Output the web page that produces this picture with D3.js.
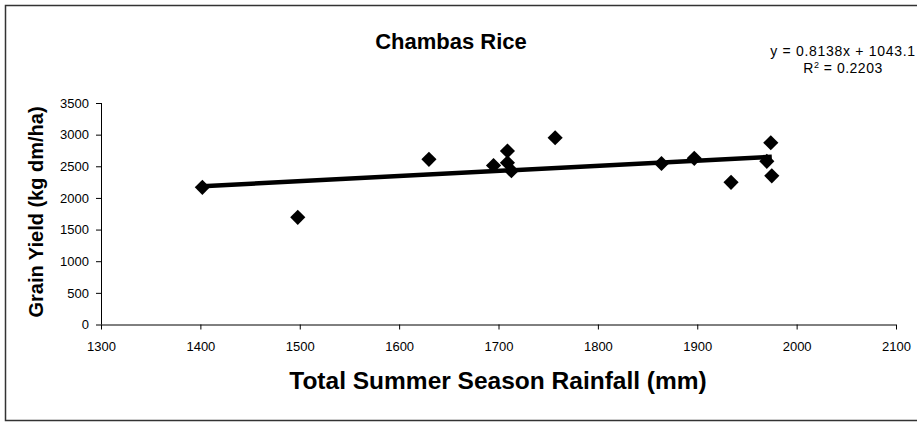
<!DOCTYPE html>
<html>
<head>
<meta charset="utf-8">
<script src="https://cdn.jsdelivr.net/npm/d3@7"></script>
<style>
  html, body { margin: 0; padding: 0; background: #fff; }
  svg { display: block; }
  text { font-family: Arial, "Liberation Sans", sans-serif; }
</style>
</head>
<body>
<svg id="chart" width="917" height="438"></svg>
<script>
// ---- data ----
const rainfall = [1402, 1498, 1630, 1695, 1709, 1709, 1713, 1757, 1864, 1897, 1934, 1974, 1970, 1975];
const grainYield = [2168, 1694, 2610, 2512, 2741, 2556, 2430, 2951, 2544, 2626, 2247, 2872, 2578, 2349];
const xTicks = [1300, 1400, 1500, 1600, 1700, 1800, 1900, 2000, 2100];
const yTicks = [0, 500, 1000, 1500, 2000, 2500, 3000, 3500];
const trendSlope = 0.8138;
const trendIntercept = 1043.1;
const rSquared = "0.2203";
const titleText = "Chambas Rice";
const xLabelText = "Total Summer Season Rainfall (mm)";
const yLabelText = "Grain Yield (kg dm/ha)";

const svg = d3.select("#chart");

// outer chart border
svg.append("rect")
  .attr("x", 5.5).attr("y", 5.5)
  .attr("width", 930).attr("height", 415)
  .attr("fill", "none").attr("stroke", "#333").attr("stroke-width", 1.5);

const x = d3.scaleLinear().domain([1300, 2100]).range([101, 896]);
const y = d3.scaleLinear().domain([0, 3500]).range([324.5, 103]);

// axes
const xAxis = d3.axisBottom(x).tickValues(xTicks).tickSize(5).tickPadding(12).tickFormat(d3.format("d"));
const yAxis = d3.axisLeft(y).tickValues(yTicks).tickSize(5).tickPadding(7).tickFormat(d3.format("d"));

const gx = svg.append("g").attr("transform", `translate(0,${y(0)})`).call(xAxis);
const gy = svg.append("g").attr("transform", `translate(${x(1300)},0)`).call(yAxis);
[gx, gy].forEach(g => {
  g.select(".domain").attr("stroke", "#000").attr("stroke-width", 1);
  g.selectAll(".tick line").attr("stroke", "#000");
  g.selectAll(".tick text").attr("fill", "#000").attr("font-size", "13px")
    .attr("font-family", "Arial, 'Liberation Sans', sans-serif");
});
gx.select(".domain").attr("d", `M${x(1300)},0.5H${x(2100)}`);
gy.select(".domain").attr("d", `M0.5,${y(0)}V${y(3500)}`);

// trend line
const xmin = d3.min(rainfall), xmax = d3.max(rainfall);
svg.append("line")
  .attr("x1", x(xmin)).attr("y1", y(trendSlope * xmin + trendIntercept))
  .attr("x2", x(xmax)).attr("y2", y(trendSlope * xmax + trendIntercept))
  .attr("stroke", "#000").attr("stroke-width", 4.5);

// points (diamonds)
const pts = rainfall.map((r, i) => [r, grainYield[i]]);
const sym = d3.symbol().type(d3.symbolSquare).size(115);
svg.append("g").selectAll("path").data(pts).join("path")
  .attr("d", sym)
  .attr("transform", d => `translate(${x(d[0])},${y(d[1])}) rotate(45)`)
  .attr("fill", "#000");

// title
svg.append("text")
  .attr("x", 451).attr("y", 49)
  .attr("text-anchor", "middle")
  .attr("font-size", "22px").attr("font-weight", "bold")
  .text(titleText);

// x label
svg.append("text")
  .attr("x", 498).attr("y", 389)
  .attr("text-anchor", "middle")
  .attr("font-size", "24.5px").attr("font-weight", "bold")
  .text(xLabelText);

// y label
svg.append("text")
  .attr("transform", "translate(43,212) rotate(-90)")
  .attr("text-anchor", "middle")
  .attr("font-size", "20px").attr("font-weight", "bold")
  .text(yLabelText);

// equation
svg.append("text").attr("text-anchor", "middle").attr("font-size", "14px")
  .attr("letter-spacing", "0.7px")
  .attr("x", 843).attr("y", 56)
  .text(`y = ${trendSlope}x + ${trendIntercept}`);
const l2 = svg.append("text").attr("text-anchor", "middle").attr("font-size", "14px")
  .attr("letter-spacing", "0.5px")
  .attr("x", 843).attr("y", 73);
l2.append("tspan").text("R");
l2.append("tspan").attr("font-size", "9px").attr("dy", -5).text("2");
l2.append("tspan").attr("dy", 5).text(` = ${rSquared}`);
</script>
</body>
</html>
